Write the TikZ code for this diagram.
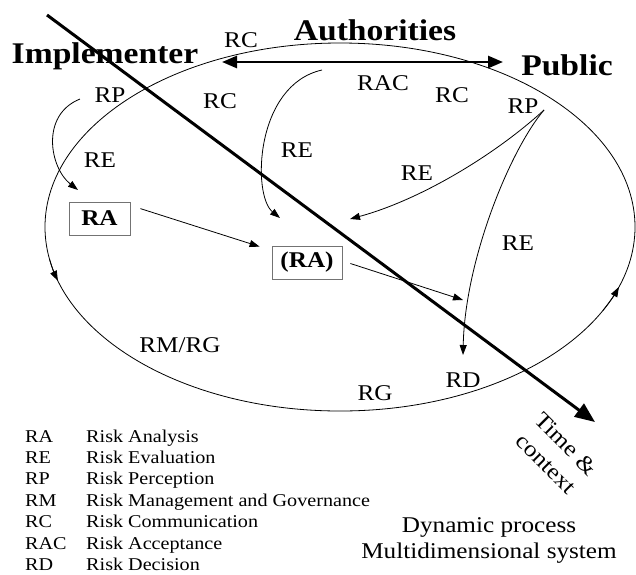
\documentclass[tikz,border=0pt]{standalone}
\usepackage{fontspec}
\setmainfont{Liberation Serif}[FakeStretch=1.12]
\usetikzlibrary{arrows.meta, calc}

\begin{document}
\begin{tikzpicture}[x=1pt, y=1pt, >={Triangle[length=10pt,width=7pt]},
    lab/.style={font=\fontsize{22.5}{26}\selectfont, inner sep=0pt, anchor=base},
    actor/.style={font=\fontsize{30}{34}\selectfont\bfseries, inner sep=0pt, anchor=base},
    rabox/.style={draw=black!55, line width=0.8pt, font=\fontsize{22.5}{26}\selectfont\bfseries, minimum height=33pt, inner sep=0pt},
    key/.style={font=\fontsize{18}{21}\selectfont, inner sep=0pt, anchor=base west},
    flow/.style={->, line width=0.8pt}]

  \useasboundingbox (0,0) rectangle (636,-574);

  % the cycle
  \coordinate (ctr) at (340,-227);
  \draw[line width=0.8pt] (ctr) ellipse [x radius=295, y radius=184];
  \draw[flow] (ctr) ++(190:295 and 184) arc [start angle=190, end angle=197, x radius=295, y radius=184];
  \draw[flow] (ctr) ++(333:295 and 184) arc [start angle=333, end angle=341, x radius=295, y radius=184];

  % actors
  \node[actor] (imp) at (105,-63) {Implementer};
  \node[actor] (auth) at (375,-40) {Authorities};
  \node[actor] (pub) at (567,-75) {Public};

  \coordinate (imp-tip) at (222,-62);
  \coordinate (pub-tip) at (503,-62);
  \draw[{Triangle[length=15pt,width=12pt]}-{Triangle[length=15pt,width=12pt]}, line width=2.6pt] (imp-tip) -- (pub-tip);

  % process labels
  \node[lab] (rc-a) at (241,-47) {RC};
  \node[lab] (rp-a) at (110,-102) {RP};
  \node[lab] (rc-b) at (220,-108) {RC};
  \node[lab] (re-a) at (100,-167) {RE};
  \node[lab] (re-b) at (297,-157) {RE};
  \node[lab] (rac) at (383,-90) {RAC};
  \node[lab] (rc-c) at (452,-102) {RC};
  \node[lab] (rp-b) at (523,-113) {RP};
  \node[lab] (re-c) at (417,-180) {RE};
  \node[lab] (re-d) at (518,-250) {RE};
  \node[lab] (rd) at (463,-387) {RD};
  \node[lab] (rg) at (375,-400) {RG};
  \node[lab] (rmrg) at (180,-352) {RM/RG};

  \node[rabox, minimum width=61pt] (ra) at (99.5,-218.5) {RA};
  \node[rabox, minimum width=70pt] (ra2) at (307,-262.5) {(RA)};

  % flows between the actors
  \coordinate (rp-a-out) at (80,-99);
  \coordinate (ra-in) at (78,-190);
  \draw[flow] (rp-a-out) .. controls (40,-115) and (50,-168) .. (ra-in);

  \coordinate (auth-out) at (322,-70);
  \coordinate (mid-in) at (280,-218);
  \draw[flow] (auth-out) .. controls (255,-85) and (252,-195) .. (mid-in);

  \coordinate (rp-b-out) at (544,-110);
  \coordinate (mid-in2) at (350,-219);
  \coordinate (rd-in) at (463,-355);
  \draw[flow] (rp-b-out) .. controls (495,-155) and (420,-200) .. (mid-in2);
  \draw[flow] (rp-b-out) .. controls (510,-150) and (465,-260) .. (rd-in);

  \draw[flow] ([xshift=10pt,yshift=-7pt]ra.north east) -- ([xshift=-12pt,yshift=-1pt]ra2.north west);
  \coordinate (dec) at (463,-300);
  \draw[flow] ([xshift=8pt,yshift=-1pt]ra2.east) -- (dec);

  % time axis
  \coordinate (t-start) at (47,-15);
  \coordinate (t-end) at (595,-422);
  \draw[-{Triangle[length=20pt,width=16pt]}, line width=3pt] (t-start) -- (t-end);
  \node[lab, anchor=center, rotate=-45, align=center] (time) at (556,-454) {Time \&\\[2pt]context};

  \node[lab] (dyn) at (489,-532) {Dynamic process};
  \node[lab] (multi) at (489,-558) {Multidimensional system};

  % key
  \node[key] (k-ra) at (25,-442) {RA};
  \node[key] (d-ra) at (86,-442) {Risk Analysis};
  \node[key] (k-re) at (25,-463.4) {RE};
  \node[key] (d-re) at (86,-463.4) {Risk Evaluation};
  \node[key] (k-rp) at (25,-484.8) {RP};
  \node[key] (d-rp) at (86,-484.8) {Risk Perception};
  \node[key] (k-rm) at (25,-506.2) {RM};
  \node[key] (d-rm) at (86,-506.2) {Risk Management and Governance};
  \node[key] (k-rc) at (25,-527.6) {RC};
  \node[key] (d-rc) at (86,-527.6) {Risk Communication};
  \node[key] (k-rac) at (25,-549) {RAC};
  \node[key] (d-rac) at (86,-549) {Risk Acceptance};
  \node[key] (k-rd) at (25,-570.4) {RD};
  \node[key] (d-rd) at (86,-570.4) {Risk Decision};

\end{tikzpicture}
\end{document}
